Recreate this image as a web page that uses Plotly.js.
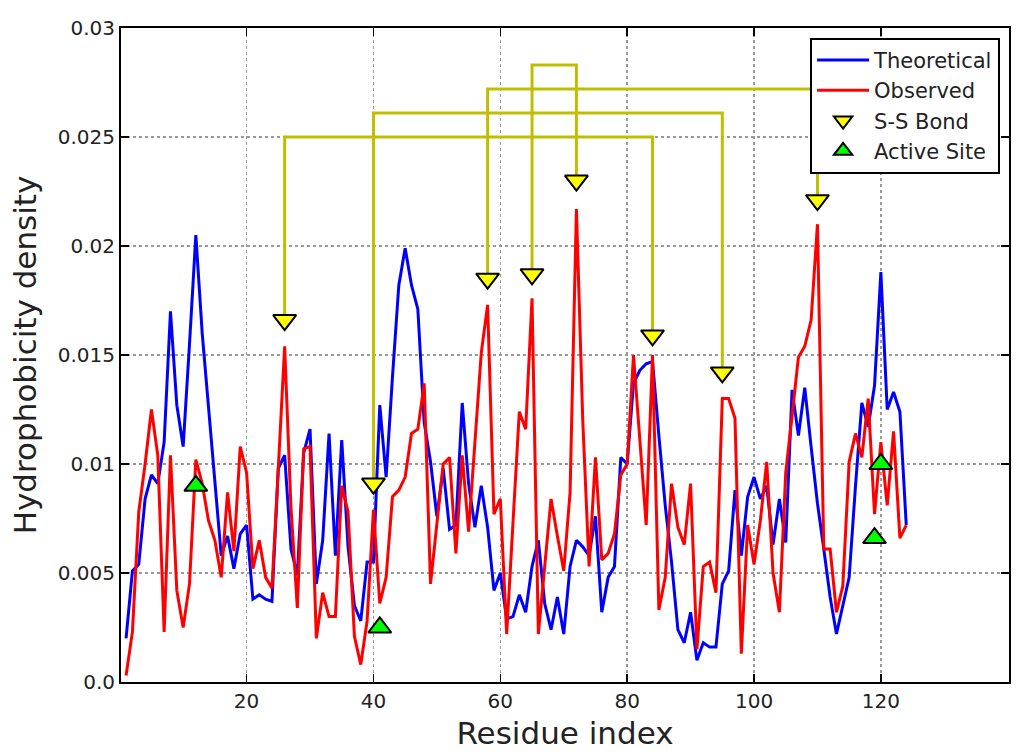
<!DOCTYPE html>
<html>
<head>
<meta charset="utf-8">
<script src="https://cdn.plot.ly/plotly-3.0.1.min.js"></script>
<style>
  html, body { margin: 0; padding: 0; background: #fff; }
  #chart { width: 1024px; height: 756px; }
</style>
</head>
<body>
<div id="chart"></div>
<script>
const residues = Array.from({ length: 124 }, (_, i) => i + 1);

const theoretical = [
  0.0020, 0.0051, 0.0054, 0.0084, 0.0095, 0.0091, 0.0110, 0.0170, 0.0127, 0.0108,
  0.0155, 0.0205, 0.0160, 0.0125, 0.0092, 0.0058, 0.0067, 0.0052, 0.0068, 0.0072,
  0.0038, 0.0040, 0.0038, 0.0037, 0.0098, 0.0104, 0.0061, 0.0049, 0.0105, 0.0116,
  0.0045, 0.0065, 0.0114, 0.0058, 0.0111, 0.0062, 0.0035, 0.0028, 0.0055, 0.0055,
  0.0127, 0.0094, 0.0140, 0.0182, 0.0199, 0.0182, 0.0171, 0.0119, 0.0101, 0.0076,
  0.0098, 0.0070, 0.0072, 0.0128, 0.0091, 0.0071, 0.0090, 0.0071, 0.0042, 0.0050,
  0.0029, 0.0030, 0.0040, 0.0032, 0.0053, 0.0065, 0.0036, 0.0024, 0.0039, 0.0022,
  0.0053, 0.0065, 0.0062, 0.0058, 0.0076, 0.0032, 0.0048, 0.0053, 0.0103, 0.0100,
  0.0137, 0.0143, 0.0146, 0.0147, 0.0113, 0.0081, 0.0055, 0.0024, 0.0018, 0.0032,
  0.0010, 0.0018, 0.0016, 0.0016, 0.0045, 0.0051, 0.0088, 0.0058, 0.0085, 0.0094,
  0.0084, 0.0090, 0.0063, 0.0084, 0.0064, 0.0134, 0.0113, 0.0135, 0.0108, 0.0082,
  0.0061, 0.0039, 0.0022, 0.0035, 0.0048, 0.0090, 0.0128, 0.0117, 0.0136, 0.0188,
  0.0125, 0.0133, 0.0124, 0.0072
];

const observed = [
  0.0003, 0.0023, 0.0078, 0.0100, 0.0125, 0.0104, 0.0023, 0.0104, 0.0042, 0.0025,
  0.0045, 0.0102, 0.0091, 0.0074, 0.0065, 0.0048, 0.0087, 0.0060, 0.0108, 0.0096,
  0.0052, 0.0065, 0.0048, 0.0043, 0.0098, 0.0154, 0.0080, 0.0034, 0.0107, 0.0108,
  0.0020, 0.0041, 0.0030, 0.0030, 0.0090, 0.0078, 0.0021, 0.0008, 0.0028, 0.0079,
  0.0036, 0.0048, 0.0085, 0.0088, 0.0094, 0.0114, 0.0116, 0.0137, 0.0045, 0.0073,
  0.0100, 0.0103, 0.0059, 0.0104, 0.0069, 0.0110, 0.0151, 0.0173, 0.0077, 0.0084,
  0.0022, 0.0073, 0.0124, 0.0116, 0.0176, 0.0022, 0.0053, 0.0084, 0.0067, 0.0051,
  0.0087, 0.0217, 0.0120, 0.0053, 0.0103, 0.0056, 0.0059, 0.0068, 0.0095, 0.0100,
  0.0150, 0.0113, 0.0072, 0.0150, 0.0033, 0.0048, 0.0091, 0.0071, 0.0063, 0.0091,
  0.0015, 0.0053, 0.0055, 0.0041, 0.0130, 0.0130, 0.0121, 0.0013, 0.0072, 0.0054,
  0.0074, 0.0101, 0.0050, 0.0032, 0.0096, 0.0122, 0.0149, 0.0154, 0.0166, 0.0210,
  0.0061, 0.0061, 0.0032, 0.0044, 0.0101, 0.0114, 0.0103, 0.0130, 0.0077, 0.0110,
  0.0081, 0.0115, 0.0066, 0.0072
];

// disulfide bonds: residue pairs and the height of their bracket
const bondPairs = [[26, 84], [40, 95], [58, 110], [65, 72]];
const bondLevels = [0.0250, 0.0261, 0.0272, 0.0283];

// S-S marker positions (down triangles)
const ssX = [26, 40, 58, 65, 72, 84, 95, 110];
const ssY = [0.0166, 0.0091, 0.0185, 0.0187, 0.0230, 0.0159, 0.0142, 0.0221];

// active site markers (up triangles)
const activeX = [12, 41, 119, 120];
const activeY = [0.0090, 0.0025, 0.0066, 0.0100];

const yTicks = [0, 0.005, 0.01, 0.015, 0.02, 0.025, 0.03];
const yTickText = ['0.0', '0.005', '0.01', '0.015', '0.02', '0.025', '0.03'];
const xTicks = [20, 40, 60, 80, 100, 120];

// bracket path for every bond
const linkX = [];
const linkY = [];
bondPairs.forEach(([a, b], i) => {
  const ya = ssY[ssX.indexOf(a)];
  const yb = ssY[ssX.indexOf(b)];
  linkX.push(a, a, b, b, null);
  linkY.push(ya, bondLevels[i], bondLevels[i], yb, null);
});

const FONT = 'DejaVu Sans, sans-serif';

const traces = [
  { x: residues, y: theoretical, name: 'Theoretical', type: 'scatter', mode: 'lines',
    line: { color: '#0000ff', width: 3 } },
  { x: residues, y: observed, name: 'Observed', type: 'scatter', mode: 'lines',
    line: { color: '#ff0000', width: 3 } },
  { x: linkX, y: linkY, type: 'scatter', mode: 'lines', showlegend: false, hoverinfo: 'skip',
    line: { color: '#bfbf00', width: 3 } },
  { x: ssX, y: ssY, name: 'S-S Bond', type: 'scatter', mode: 'markers',
    marker: { symbol: 'triangle-down', size: 20, color: '#ffff00', line: { color: '#000', width: 2 } } },
  { x: activeX, y: activeY, name: 'Active Site', type: 'scatter', mode: 'markers',
    marker: { symbol: 'triangle-up', size: 20, color: '#00ff00', line: { color: '#000', width: 2 } } },
];

const axisBase = {
  showline: true, linecolor: '#000', linewidth: 2, mirror: 'ticks',
  ticks: 'inside', ticklen: 8, tickwidth: 1.5, tickcolor: '#000',
  showgrid: true, gridcolor: '#999', griddash: 'dot', gridwidth: 1.5,
  zeroline: false, tickfont: { family: FONT, size: 20, color: '#222' },
};

const layout = {
  width: 1024, height: 756,
  paper_bgcolor: '#fff', plot_bgcolor: '#fff',
  font: { family: FONT, color: '#222' },
  margin: { l: 121, r: 15, t: 28, b: 74 },
  showlegend: true,
  xaxis: { ...axisBase, range: [0.2, 140.2], tickmode: 'array', tickvals: xTicks,
    title: { text: 'Residue index', font: { family: FONT, size: 31, color: '#222' }, standoff: 10 } },
  yaxis: { ...axisBase, range: [0, 0.03], tickmode: 'array', tickvals: yTicks, ticktext: yTickText,
    title: { text: 'Hydrophobicity density', font: { family: FONT, size: 31, color: '#222' }, standoff: 12 } },
  legend: { x: 0.776, y: 0.985, xanchor: 'left', yanchor: 'top',
    bgcolor: '#fff', bordercolor: '#000', borderwidth: 2,
    font: { family: FONT, size: 21, color: '#222' }, itemwidth: 52 },
};

Plotly.newPlot('chart', traces, layout, { displayModeBar: false, staticPlot: true });
</script>
</body>
</html>
